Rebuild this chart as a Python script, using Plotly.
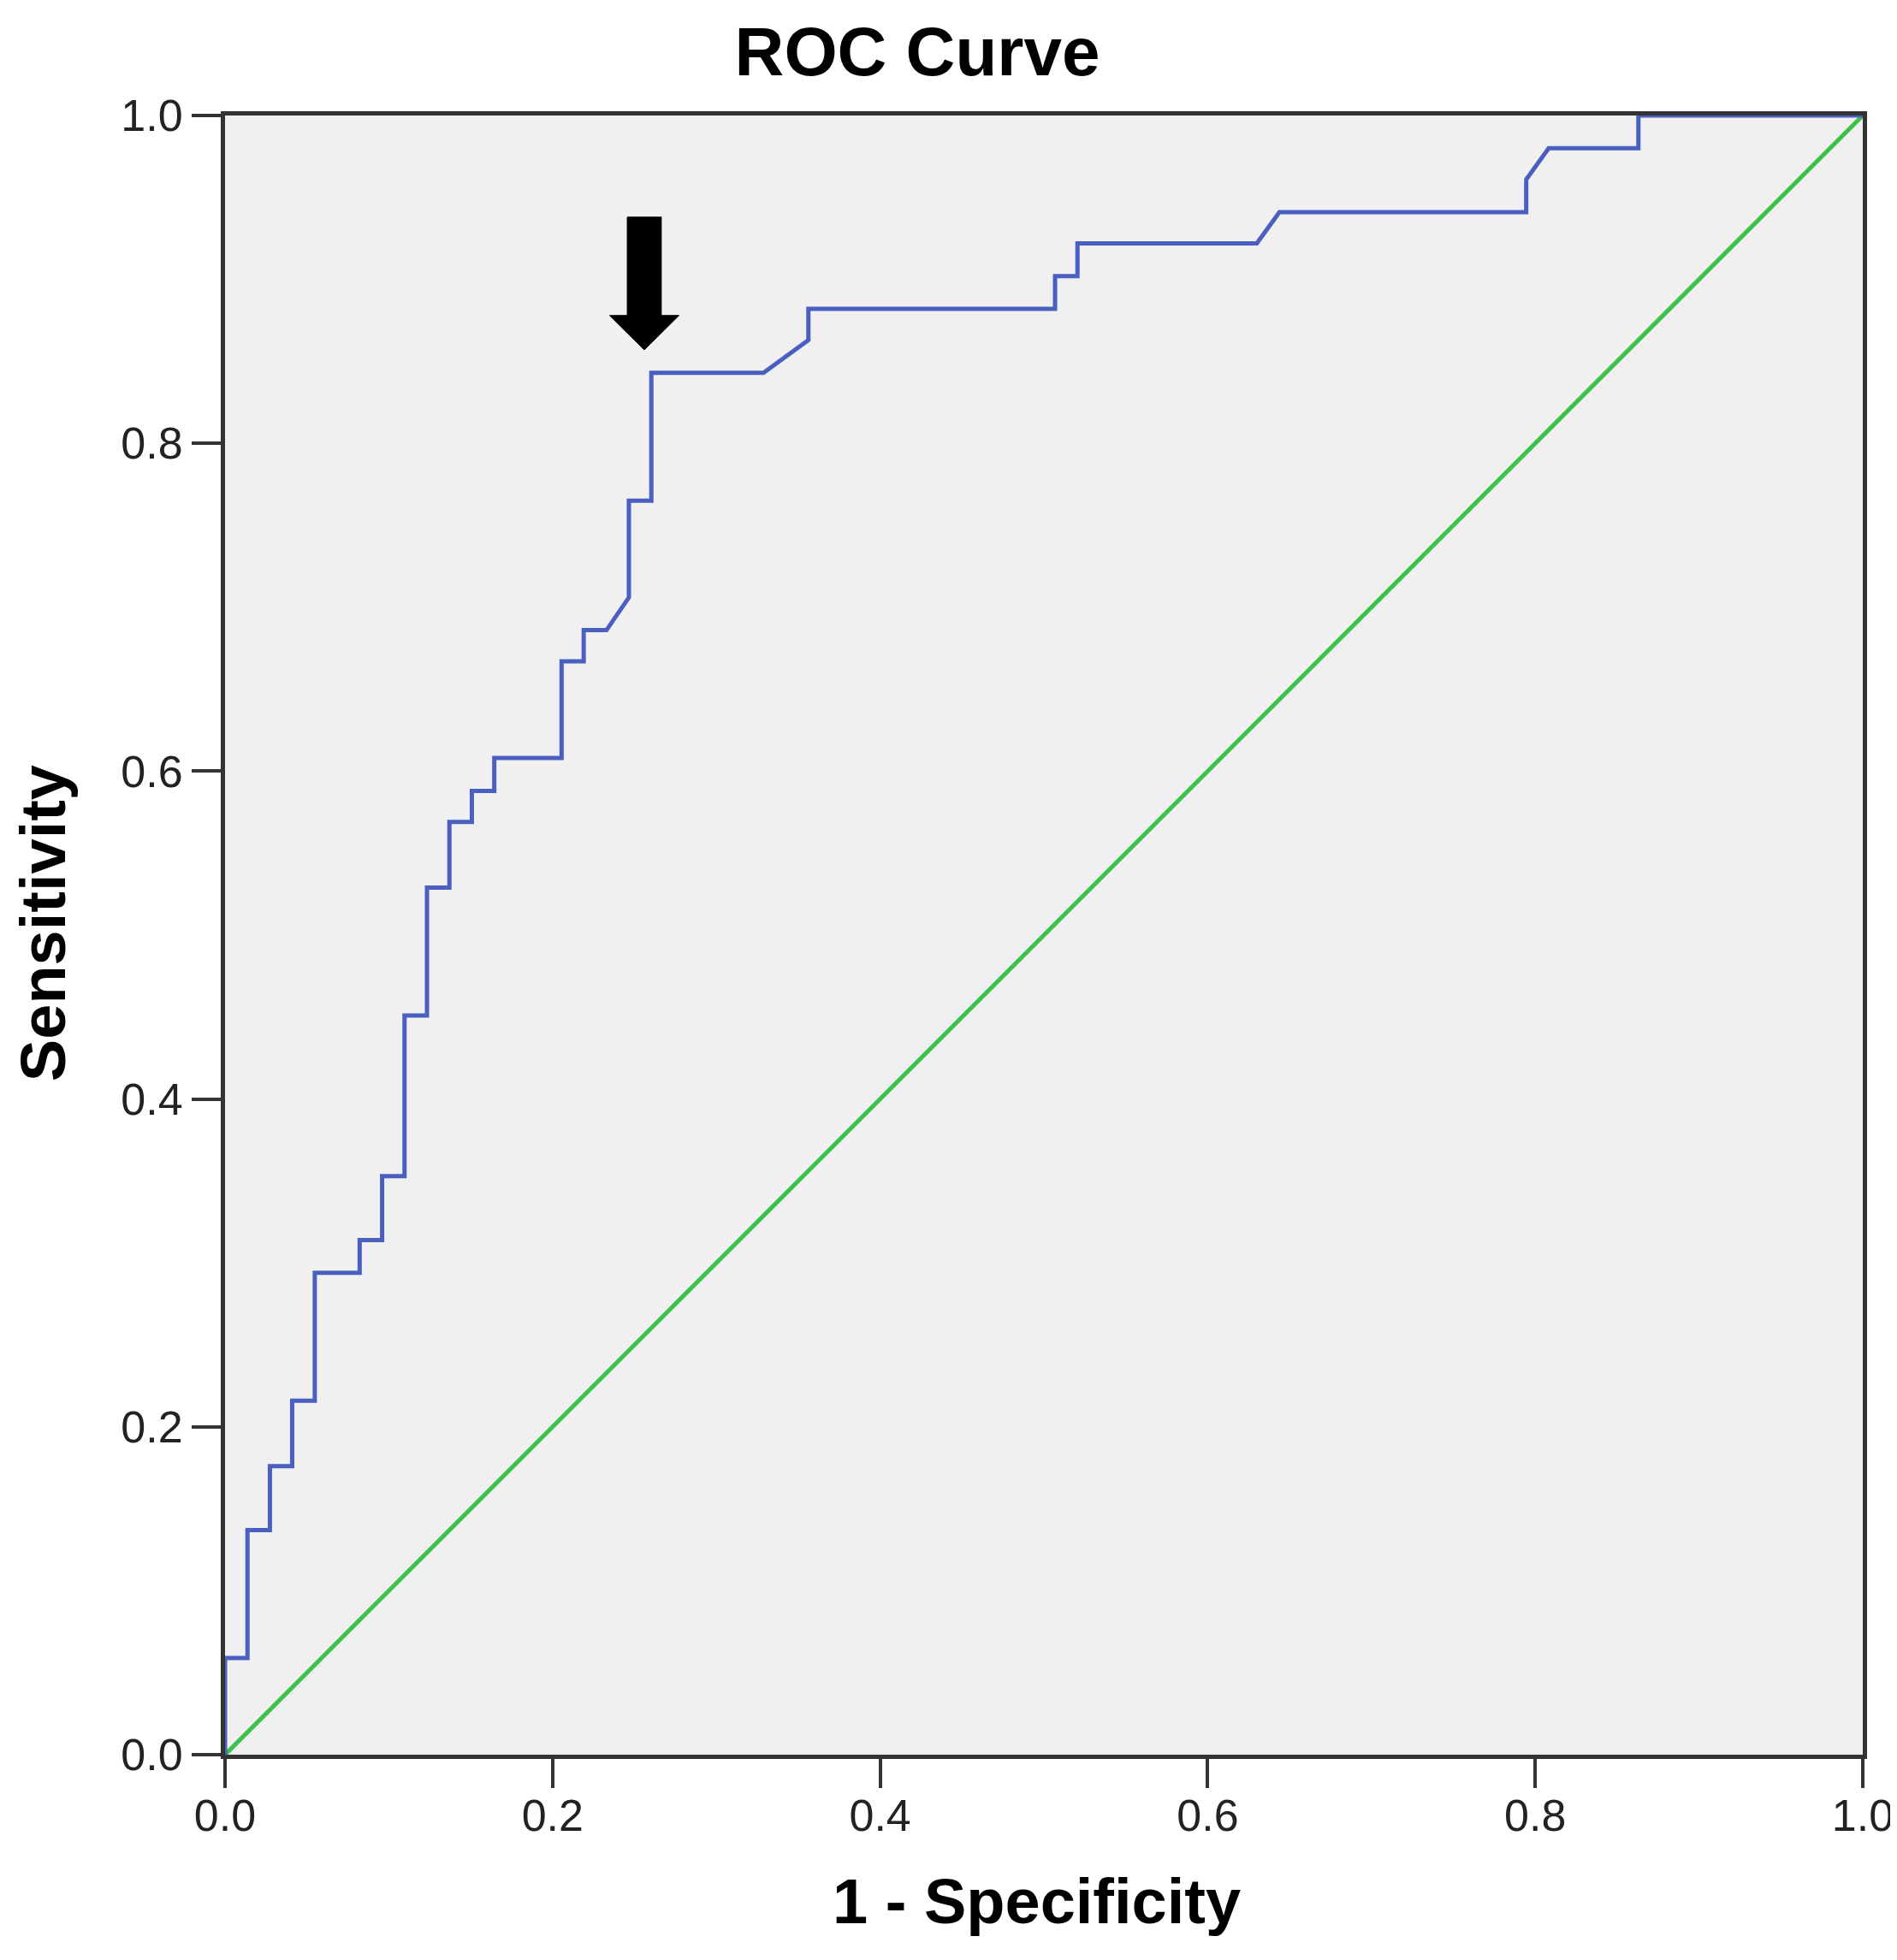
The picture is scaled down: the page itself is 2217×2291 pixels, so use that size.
import plotly.graph_objects as go

# ROC curve points (1 - Specificity, Sensitivity)
fpr = [0.0, 0.0, 0.0137, 0.0137, 0.0274, 0.0274, 0.041, 0.041, 0.0548, 0.0548,
       0.0822, 0.0822, 0.0959, 0.0959, 0.1096, 0.1096, 0.1233, 0.1233, 0.137, 0.137,
       0.1507, 0.1507, 0.1644, 0.1644, 0.2055, 0.2055, 0.219, 0.219, 0.2329, 0.2466,
       0.2466, 0.2603, 0.2603, 0.3288, 0.3562, 0.3562, 0.5068, 0.5068, 0.5205, 0.5205,
       0.630, 0.6438, 0.7945, 0.7945, 0.8082, 0.863, 0.863, 1.0]
sens = [0.0, 0.059, 0.059, 0.137, 0.137, 0.176, 0.176, 0.216, 0.216, 0.294,
        0.294, 0.314, 0.314, 0.353, 0.353, 0.451, 0.451, 0.529, 0.529, 0.569,
        0.569, 0.588, 0.588, 0.608, 0.608, 0.667, 0.667, 0.686, 0.686, 0.706,
        0.765, 0.765, 0.843, 0.843, 0.863, 0.882, 0.882, 0.902, 0.902, 0.922,
        0.922, 0.941, 0.941, 0.961, 0.980, 0.980, 1.0, 1.0]

ref_x = [0.0, 1.0]
ref_y = [0.0, 1.0]

tick_vals = [0.0, 0.2, 0.4, 0.6, 0.8, 1.0]
tick_text = ["0.0", "0.2", "0.4", "0.6", "0.8", "1.0"]

# Arrow pointing at the chosen cut-off
arrow_x = 0.256
arrow_tip_y = 0.857
arrow_head_base_y = 0.878
arrow_top_y = 0.938
shaft_half = 0.0104
head_half = 0.0212

FONT = "Liberation Sans, Arial, sans-serif"
AXC = "#333333"

fig = go.Figure()
fig.add_trace(go.Scatter(x=ref_x, y=ref_y, mode="lines",
                         line=dict(color="#3cc24a", width=5), showlegend=False))
fig.add_trace(go.Scatter(x=fpr, y=sens, mode="lines",
                         line=dict(color="#4a5fc0", width=5), showlegend=False))

path = (f"M {arrow_x - shaft_half} {arrow_top_y} "
        f"L {arrow_x + shaft_half} {arrow_top_y} "
        f"L {arrow_x + shaft_half} {arrow_head_base_y} "
        f"L {arrow_x + head_half} {arrow_head_base_y} "
        f"L {arrow_x} {arrow_tip_y} "
        f"L {arrow_x - head_half} {arrow_head_base_y} "
        f"L {arrow_x - shaft_half} {arrow_head_base_y} Z")
fig.add_shape(type="path", path=path, xref="x", yref="y",
              fillcolor="black", line=dict(color="black", width=1))

axis_common = dict(
    range=[0, 1], showgrid=False, zeroline=False,
    showline=True, mirror=True, linecolor=AXC, linewidth=5,
    ticks="outside", ticklen=34, tickwidth=4, tickcolor=AXC,
    tickvals=tick_vals, ticktext=tick_text,
    tickfont=dict(family=FONT, size=52, color="#222222"),
)

fig.update_layout(
    width=2217, height=2291,
    margin=dict(l=255, r=41, t=127, b=248),
    paper_bgcolor="white", plot_bgcolor="#f0f0f0",
    xaxis=dict(**axis_common, ticklabelstandoff=-12),
    yaxis=dict(**axis_common),
    title=dict(text="ROC Curve", x=1064 / 2217, xanchor="center",
               y=1 - 52 / 2291, yanchor="middle", yref="container",
               font=dict(family=FONT, size=80, color="black", weight="bold")),
    annotations=[
        dict(text="1 - Specificity", xref="paper", yref="paper",
             x=0.4956, y=-0.0893, xanchor="center", yanchor="middle",
             showarrow=False,
             font=dict(family=FONT, size=74, color="black", weight="bold")),
        dict(text="Sensitivity", xref="paper", yref="paper",
             x=-0.111, y=0.507, xanchor="center", yanchor="middle",
             textangle=-90, showarrow=False,
             font=dict(family=FONT, size=74, color="black", weight="bold")),
    ],
)

fig.write_html("out.html")
